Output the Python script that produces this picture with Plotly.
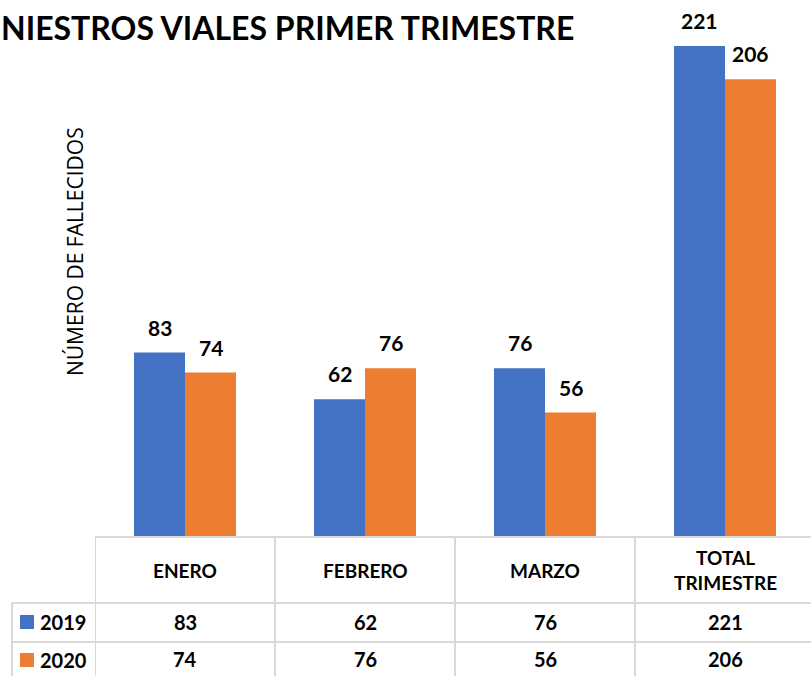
import plotly.graph_objects as go

categories = ["ENERO", "FEBRERO", "MARZO", "TOTAL<br>TRIMESTRE"]
series_names = ["2019", "2020"]
values_2019 = [83, 62, 76, 221]
values_2020 = [74, 76, 56, 206]
colors = ["#4472C4", "#ED7D31"]

W, H = 811, 676
left, bottom = 95, 139
plot_h = H - bottom
plot_w = W - left
cat_px = 180.0
x_range = [-0.5, -0.5 + plot_w / cat_px]
y_max = 241.7

def py(pix):
    return (plot_h - pix) / plot_h

def px(pix):
    return (pix - left) / plot_w

FONT = "Lato"
fig = go.Figure()
xs = list(range(len(categories)))
for name, vals, col in zip(series_names, [values_2019, values_2020], colors):
    fig.add_trace(go.Bar(x=xs, y=vals, name=name, marker=dict(color=col, line=dict(width=0)),
                         showlegend=False, hoverinfo="y"))

annotations = []
bw = 51
for i in xs:
    for k, vals in enumerate([values_2019, values_2020]):
        annotations.append(dict(x=i, y=vals[i], xref="x", yref="y", text=f"<b>{vals[i]}</b>",
                                showarrow=False, xshift=(-bw / 2 if k == 0 else bw / 2),
                                yanchor="bottom", yshift=11,
                                font=dict(family=FONT, size=21, color="#000000")))

# table header and values
for i, c in enumerate(categories):
    annotations.append(dict(x=i, y=py(570), xref="x", yref="paper", text=f"<b>{c}</b>",
                            showarrow=False, yanchor="middle",
                            font=dict(family=FONT, size=19, color="#000000")))
    for row_y, vals in zip([622, 659], [values_2019, values_2020]):
        annotations.append(dict(x=i, y=py(row_y), xref="x", yref="paper", text=f"<b>{vals[i]}</b>",
                                showarrow=False, yanchor="middle",
                                font=dict(family=FONT, size=20, color="#000000")))

shapes = []
# legend keys in the table
for row_y, name, col in zip([622, 660], series_names, colors):
    shapes.append(dict(type="rect", xref="paper", yref="paper", x0=px(20), x1=px(34),
                       y0=py(row_y - 7), y1=py(row_y + 7), fillcolor=col, line=dict(width=0)))
    annotations.append(dict(x=px(38), y=py(row_y), xref="paper", yref="paper", text=f"<b>{name}</b>",
                            showarrow=False, xanchor="left", yanchor="middle",
                            font=dict(family=FONT, size=20, color="#000000")))

grid = "#D9D9D9"
shapes.append(dict(type="line", xref="paper", yref="paper", x0=px(95), x1=1.01, y0=py(537), y1=py(537),
                   line=dict(color=grid, width=2)))
for yy in [603, 642]:
    shapes.append(dict(type="line", xref="paper", yref="paper", x0=px(12), x1=1.01, y0=py(yy), y1=py(yy),
                       line=dict(color=grid, width=2)))
shapes.append(dict(type="line", xref="paper", yref="paper", x0=px(12), x1=px(12), y0=py(603), y1=py(680),
                   line=dict(color=grid, width=2)))
for b in [-0.5, 0.5, 1.5, 2.5]:
    shapes.append(dict(type="line", xref="x", yref="paper", x0=b, x1=b, y0=py(537), y1=py(680),
                       line=dict(color=grid, width=2)))

# title (clipped at the left edge in the reference)
annotations.append(dict(x=px(-1), y=py(28), xref="paper", yref="paper",
                        text="<b>NIESTROS VIALES PRIMER TRIMESTRE</b>", showarrow=False,
                        xanchor="left", yanchor="middle",
                        font=dict(family=FONT, size=32, color="#000000")))
# y-axis title
annotations.append(dict(x=px(75), y=py(252), xref="paper", yref="paper",
                        text="NÚMERO DE FALLECIDOS", showarrow=False, textangle=-90,
                        xanchor="center", yanchor="middle",
                        font=dict(family="Open Sans", size=21, color="#000000")))

fig.update_layout(
    width=W, height=H, margin=dict(l=left, r=0, t=0, b=bottom),
    paper_bgcolor="white", plot_bgcolor="white",
    barmode="group", bargap=1 - 102 / 180, bargroupgap=0,
    xaxis=dict(range=x_range, showticklabels=False, showgrid=False, zeroline=False, showline=False,
               ticks=""),
    yaxis=dict(range=[0, y_max], showticklabels=False, showgrid=False, zeroline=False, showline=False,
               ticks=""),
    annotations=annotations, shapes=shapes,
)
fig.write_html("out.html", config={"displayModeBar": False},
               post_script="document.body.style.margin='0';")
